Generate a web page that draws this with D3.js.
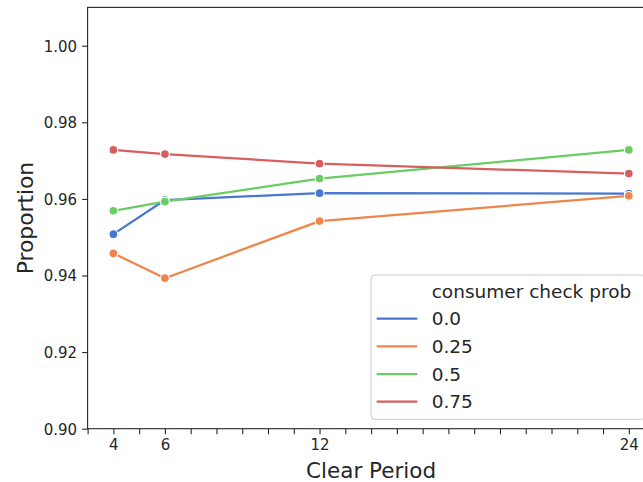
<!DOCTYPE html>
<html>
<head>
<meta charset="utf-8">
<script src="https://cdn.jsdelivr.net/npm/d3@7"></script>
<style>
  html, body { margin: 0; padding: 0; background: #fff; }
  svg { display: block; }
  text { font-family: "DejaVu Sans", sans-serif; fill: #262626; }
</style>
</head>
<body>
<div id="chart"></div>
<script>
// ---- data ----
const clearPeriods = [4, 6, 12, 24];
const seriesNames = ["0.0", "0.25", "0.5", "0.75"];
const series00 = [0.9508, 0.9597, 0.9615, 0.9614];
const series025 = [0.9458, 0.9393, 0.9542, 0.9608];
const series05 = [0.9569, 0.9593, 0.9653, 0.9728];
const series075 = [0.9728, 0.9717, 0.9692, 0.9666];
const yTicks = [0.90, 0.92, 0.94, 0.96, 0.98, 1.00];
const xMajorTicks = [4, 6, 12, 24];
const xMinorTicks = d3.range(3, 26).filter(v => !xMajorTicks.includes(v));
const colors = ["#4878d0", "#ee854a", "#6acc64", "#d65f5f"];
const legendTitle = "consumer check prob";
const xLabel = "Clear Period";
const yLabel = "Proportion";

const allSeries = [series00, series025, series05, series075];

// ---- layout ----
const W = 643, H = 482;
const plotL = 87.6, plotR = 654.6, plotT = 7.4, plotB = 428.7;

const x = d3.scaleLinear().domain([3, 25]).range([plotL, plotR]);
const y = d3.scaleLinear().domain([0.90, 1.01]).range([plotB, plotT]);

const svg = d3.select("#chart").append("svg")
  .attr("width", W).attr("height", H);

// axes
const axisColor = "#262626";
const yAxis = svg.append("g").attr("transform", `translate(${plotL},0)`)
  .call(d3.axisLeft(y).tickValues(yTicks).tickFormat(d3.format(".2f")).tickSize(5.5).tickPadding(5));
const xAxis = svg.append("g").attr("transform", `translate(0,${plotB})`)
  .call(d3.axisBottom(x).tickValues(xMajorTicks).tickFormat(d3.format("d")).tickSize(5.5).tickPadding(5));
const xMinor = svg.append("g").attr("transform", `translate(0,${plotB})`)
  .call(d3.axisBottom(x).tickValues(xMinorTicks).tickFormat("").tickSize(5.5));
[yAxis, xAxis, xMinor].forEach(g => {
  g.select(".domain").remove();
  g.selectAll(".tick line").attr("stroke", axisColor).attr("stroke-width", 1.1);
  g.selectAll(".tick text").attr("font-size", 15).attr("fill", "#262626")
    .style("font-family", "'DejaVu Sans', sans-serif");
});
yAxis.selectAll(".tick text").attr("dy", "0.36em");
xAxis.selectAll(".tick text").attr("dy", "0.75em");

// frame (spines)
svg.append("rect").attr("x", plotL).attr("y", plotT)
  .attr("width", plotR - plotL).attr("height", plotB - plotT)
  .attr("fill", "none").attr("stroke", axisColor).attr("stroke-width", 1.1);

// lines and markers
const line = d3.line().x((d, i) => x(clearPeriods[i])).y(d => y(d));
allSeries.forEach((vals, si) => {
  const g = svg.append("g");
  g.append("path").datum(vals).attr("d", line)
    .attr("fill", "none").attr("stroke", colors[si]).attr("stroke-width", 2.25)
    .attr("stroke-linejoin", "round").attr("stroke-linecap", "round");
  g.selectAll("circle").data(vals).join("circle")
    .attr("cx", (d, i) => x(clearPeriods[i])).attr("cy", d => y(d))
    .attr("r", 4.4).attr("fill", colors[si])
    .attr("stroke", "#fff").attr("stroke-width", 1.1);
});

// axis labels
svg.append("text").attr("x", (plotL + plotR) / 2).attr("y", 478)
  .attr("text-anchor", "middle").attr("font-size", 21.5).text(xLabel);
svg.append("text").attr("transform", `translate(33,${(plotT + plotB) / 2}) rotate(-90)`)
  .attr("text-anchor", "middle").attr("font-size", 21.8).text(yLabel);

// legend
const lg = svg.append("g");
lg.append("rect").attr("x", 371).attr("y", 275).attr("width", 274.3).attr("height", 144.3)
  .attr("rx", 4).attr("fill", "#fff").attr("fill-opacity", 0.8)
  .attr("stroke", "#cccccc").attr("stroke-width", 1);
lg.append("text").attr("x", 431.7).attr("y", 297.5).attr("font-size", 18.5).text(legendTitle);
const entryY = d3.scaleLinear().domain([0, 3]).range([318.7, 401.7]);
seriesNames.forEach((name, i) => {
  lg.append("line").attr("x1", 376.7).attr("x2", 417.3)
    .attr("y1", entryY(i)).attr("y2", entryY(i))
    .attr("stroke", colors[i]).attr("stroke-width", 2.25);
  lg.append("text").attr("x", 431.7).attr("y", entryY(i)).attr("dy", "0.36em")
    .attr("font-size", 18.5).text(name);
});
</script>
</body>
</html>
